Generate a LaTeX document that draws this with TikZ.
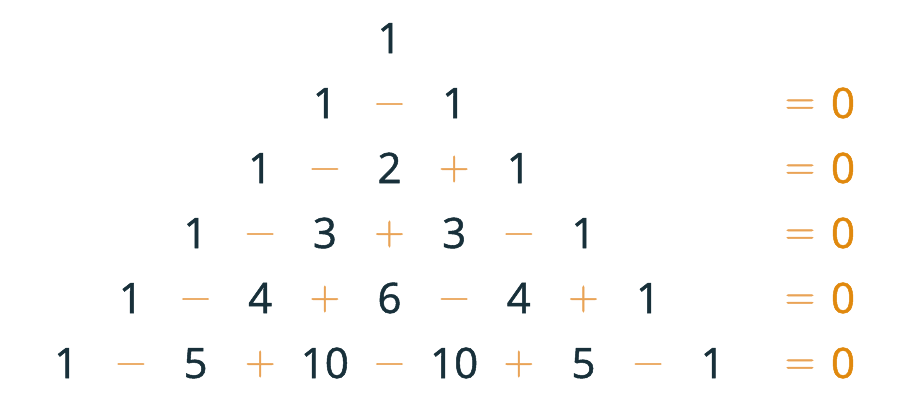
\documentclass[tikz,border=0pt]{standalone}
\usepackage{fontspec}
\setmainfont{Open Sans}
\newfontfamily\numfont{Open Sans}[RawFeature={embolden=1.2}]
\newfontfamily\opfont{Latin Modern Roman}[RawFeature={embolden=1.2}]
\definecolor{numc}{HTML}{18303A}
\definecolor{opc}{HTML}{E9A356}
\definecolor{zc}{HTML}{E0890E}
\begin{document}
\begin{tikzpicture}[x=1pt,y=-1pt,
  num/.style={inner sep=0pt,anchor=base,text=numc,font=\numfont\fontsize{42}{48}\selectfont},
  op/.style={inner sep=0pt,anchor=base,text=opc,font=\opfont\fontsize{42}{48}\selectfont},
  zero/.style={inner sep=0pt,anchor=base,text=zc,font=\numfont\fontsize{42}{48}\selectfont}]
\useasboundingbox (0,0) rectangle (910,418);
% rows
\foreach \r/\vals in {0/{1},1/{1,1},2/{1,2,1},3/{1,3,3,1},4/{1,4,6,4,1},5/{1,5,10,10,5,1}}{
  \pgfmathsetmacro{\by}{53+65*\r}
  \foreach \v [count=\k from 0] in \vals {
    \pgfmathsetmacro{\bx}{389.5+129.3*(\k-\r/2)}
    \node[num] (n-\r-\k) at (\bx,\by) {\v};
  }
}
% operators
\foreach \r in {1,...,5}{
  \pgfmathsetmacro{\by}{53+65*\r}
  \pgfmathsetmacro{\oy}{53+65*\r-3.5}
  \foreach \k in {1,...,\r}{
    \pgfmathsetmacro{\bx}{389.5+129.3*(\k-0.5-\r/2)}
    \pgfmathparse{mod(\k,2)==1 ? 1 : 0}
    \ifnum\pgfmathresult=1
      \node[op] (o-\r-\k) at (\bx,\oy) {−};
    \else
      \node[op] (o-\r-\k) at (\bx,\oy) {+};
    \fi
  }
  \node[op] (e-\r) at (800,\oy) {=};
  \node[zero] (z-\r) at (843,\by) {0};
}
\end{tikzpicture}
\end{document}
